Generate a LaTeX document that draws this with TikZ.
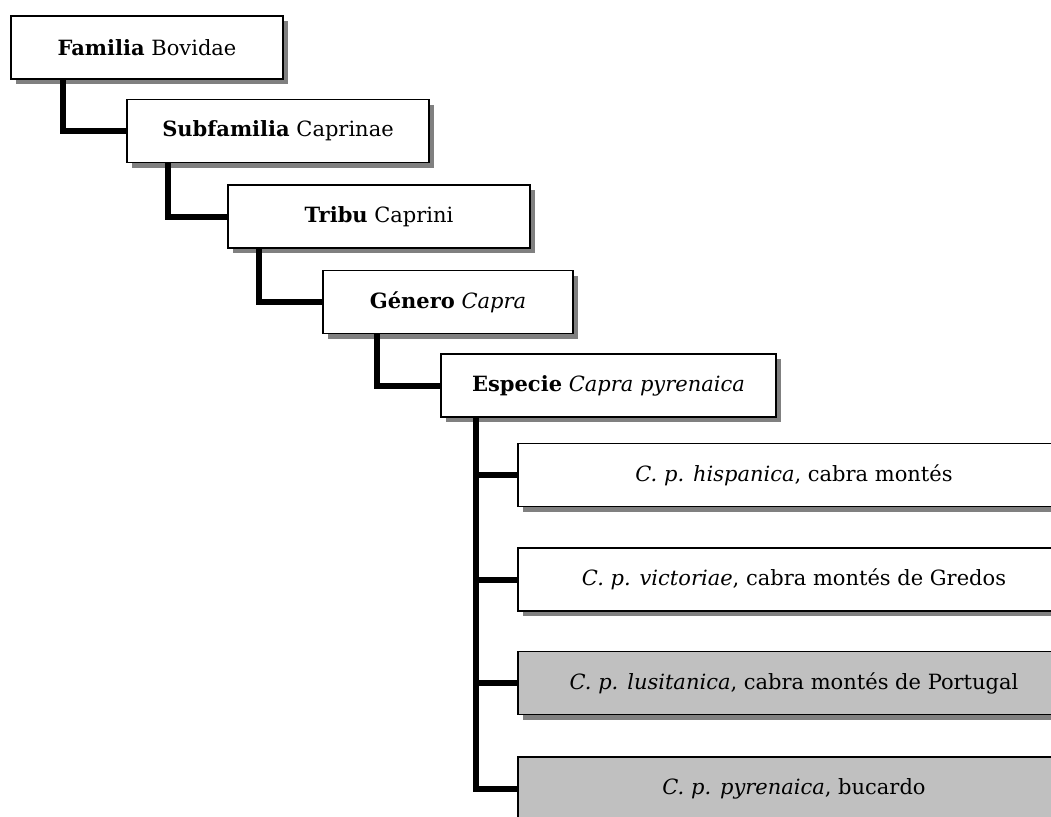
\documentclass[tikz,border=0pt]{standalone}
\usepackage{fontspec}
\setmainfont{DejaVu Serif}
\usetikzlibrary{shadows}
\definecolor{shadowgray}{HTML}{808080}
\definecolor{boxgray}{HTML}{C0C0C0}
\begin{document}
\begin{tikzpicture}[x=1pt,y=-1pt,
  taxbox/.style={draw=black,line width=1.8pt,fill=white,minimum height=63pt,
    inner sep=0pt,font=\fontsize{21}{24}\selectfont,
    drop shadow={shadow xshift=5pt,shadow yshift=-5pt,fill=shadowgray,opacity=1}},
  graybox/.style={taxbox,fill=boxgray},
  link/.style={line width=6pt,line join=miter,draw=black}]
\useasboundingbox (0,0) rectangle (1051,816);
\clip (0,0) rectangle (1051,816);
\node[taxbox,minimum width=272pt] (b1) at (147,47.5) {\textbf{Familia} Bovidae};
\node[taxbox,minimum width=302pt] (b2) at (278,131) {\textbf{Subfamilia} Caprinae};
\node[taxbox,minimum width=302pt] (b3) at (379,216.5) {\textbf{Tribu} Caprini};
\node[taxbox,minimum width=250pt] (b4) at (448,302) {\textbf{Género} \textit{Capra}};
\node[taxbox,minimum width=335pt] (b5) at (608.5,385.5) {\textbf{Especie} \textit{Capra pyrenaica}};
\node[taxbox,minimum width=552pt] (s1) at (794,475) {\textit{C. p. hispanica}, cabra montés};
\node[taxbox,minimum width=552pt] (s2) at (794,579.5) {\textit{C. p. victoriae}, cabra montés de Gredos};
\node[graybox,minimum width=552pt] (s3) at (794,683) {\textit{C. p. lusitanica}, cabra montés de Portugal};
\node[graybox,minimum width=552pt] (s4) at (794,788.5) {\textit{C. p. pyrenaica}, bucardo};
\draw[link] ([xshift=52.5pt]b1.south west) |- (b2.west);
\draw[link] ([xshift=42pt]b2.south west) |- (b3.west);
\draw[link] ([xshift=32pt]b3.south west) |- (b4.west);
\draw[link] ([xshift=55pt]b4.south west) |- (b5.west);
\draw[link] ([xshift=36pt]b5.south west) |- (s1.west);
\draw[link] ([xshift=36pt]b5.south west) |- (s2.west);
\draw[link] ([xshift=36pt]b5.south west) |- (s3.west);
\draw[link] ([xshift=36pt]b5.south west) |- (s4.west);
\end{tikzpicture}
\end{document}
